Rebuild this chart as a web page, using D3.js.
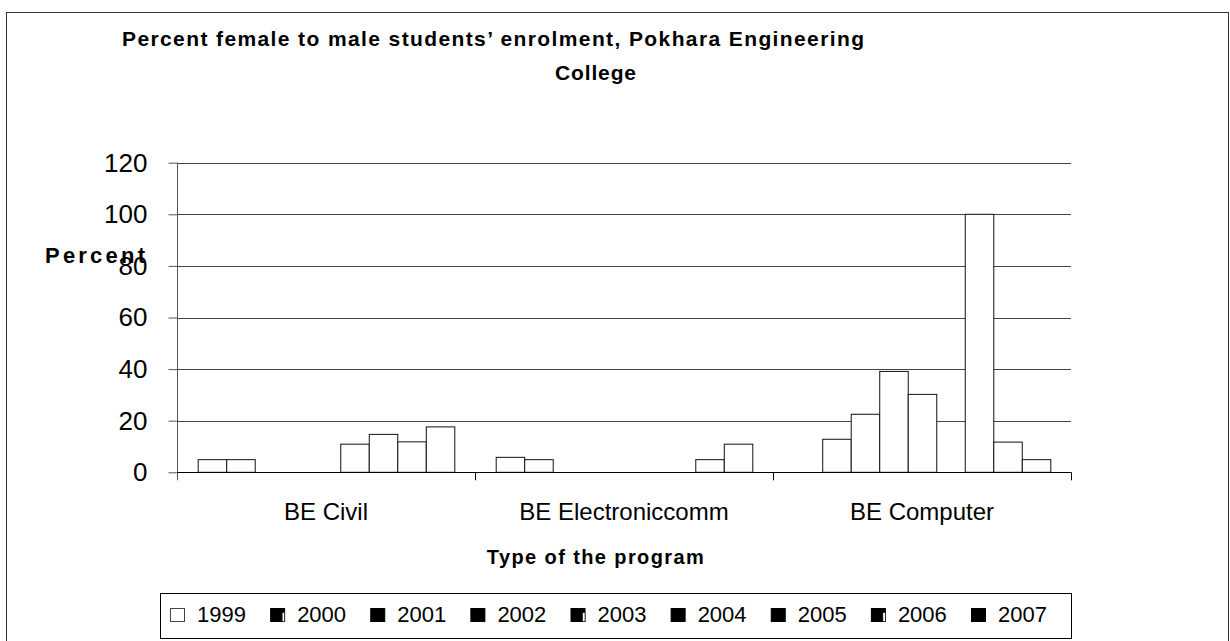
<!DOCTYPE html>
<html>
<head>
<meta charset="utf-8">
<script src="https://cdn.jsdelivr.net/npm/d3@7/dist/d3.min.js"></script>
<style>
  html, body { margin: 0; padding: 0; background: #fff; }
  svg { display: block; font-family: "Liberation Sans", Arial, sans-serif; }
</style>
</head>
<body>
<svg id="chart" width="1230" height="641"></svg>
<script>
// Programs shown on the category axis
const programs = ["BE Civil", "BE Electroniccomm", "BE Computer"];
// Intake years (one bar per year inside each program)
const years = ["1999", "2000", "2001", "2002", "2003", "2004", "2005", "2006", "2007"];
// Percent female to male enrolment, per program, in year order
const civil      = [4.9, 4.9, 0, 0, 0, 10.9, 14.7, 11.8, 17.6];
const electronic = [5.8, 4.9, 0, 0, 0, 0, 0, 4.9, 10.9];
const computer   = [0, 12.8, 22.5, 39.1, 30.2, 0, 100, 11.7, 4.9];
const seriesByProgram = [civil, electronic, computer];
// Value axis ticks
const yTicks = [0, 20, 40, 60, 80, 100, 120];

const svg = d3.select("#chart");

// outer frame
svg.append("rect")
  .attr("x", 6.5).attr("y", 12.5).attr("width", 1222).attr("height", 660)
  .attr("fill", "#fff").attr("stroke", "#333").attr("stroke-width", 1);

const plot = { left: 177, right: 1071, top: 162.7, bottom: 472.3 };

const x0 = d3.scaleBand().domain(programs).range([plot.left, plot.right]).padding(0);
const x1 = d3.scaleBand().domain(years).range([0, x0.bandwidth()])
  .paddingInner(0).paddingOuter(0.726);
const y = d3.scaleLinear().domain([0, 120]).range([plot.bottom, plot.top]);

// horizontal gridlines
svg.append("g").selectAll("line").data(yTicks.filter(t => t > 0)).join("line")
  .attr("x1", plot.left).attr("x2", plot.right)
  .attr("y1", d => Math.round(y(d)) + 0.5).attr("y2", d => Math.round(y(d)) + 0.5)
  .attr("stroke", "#444").attr("stroke-width", 1.2);

// value axis
const yAxis = svg.append("g")
  .attr("transform", `translate(${plot.left + 0.5},0)`)
  .call(d3.axisLeft(y).tickValues(yTicks).tickSize(9).tickPadding(21).tickSizeOuter(0));
yAxis.select(".domain").attr("stroke", "#555").attr("d", `M0,${plot.top}V${plot.bottom + 8}`);
yAxis.selectAll(".tick line").attr("stroke", "#555");
yAxis.selectAll(".tick text")
  .attr("font-size", 26).attr("fill", "#000")
  .attr("font-family", "'Liberation Sans', Arial, sans-serif");

// bars
const groups = svg.append("g").selectAll("g").data(programs).join("g")
  .attr("transform", d => `translate(${x0(d)},0)`);
groups.selectAll("rect")
  .data((p, i) => years.map((yr, j) => ({ year: yr, value: seriesByProgram[i][j] })))
  .join("rect")
  .filter(d => d.value > 0)
  .attr("x", d => x1(d.year) + 0.5)
  .attr("y", d => y(d.value))
  .attr("width", x1.bandwidth())
  .attr("height", d => y(0) - y(d.value))
  .attr("fill", "#fff").attr("stroke", "#111").attr("stroke-width", 1);

// category axis line and boundary ticks
svg.append("line")
  .attr("x1", plot.left).attr("x2", plot.right)
  .attr("y1", Math.round(plot.bottom) + 0.5).attr("y2", Math.round(plot.bottom) + 0.5)
  .attr("stroke", "#000").attr("stroke-width", 1);
const boundaries = programs.slice(1).map(p => x0(p)).concat([plot.right]);
svg.append("g").selectAll("line").data(boundaries).join("line")
  .attr("x1", d => Math.round(d) + 0.5).attr("x2", d => Math.round(d) + 0.5)
  .attr("y1", plot.bottom).attr("y2", plot.bottom + 8)
  .attr("stroke", "#000");
svg.append("g").selectAll("text").data(programs).join("text")
  .attr("x", d => x0(d) + x0.bandwidth() / 2)
  .attr("y", 520)
  .attr("text-anchor", "middle")
  .attr("font-size", 24)
  .text(d => d);

// titles
svg.append("text")
  .attr("x", 122).attr("y", 46)
  .attr("font-size", 21).attr("font-weight", "bold")
  .attr("textLength", 742).attr("lengthAdjust", "spacing")
  .text("Percent female to male students\u2019 enrolment, Pokhara Engineering");
svg.append("text")
  .attr("x", 555).attr("y", 80)
  .attr("font-size", 21).attr("font-weight", "bold")
  .attr("textLength", 81).attr("lengthAdjust", "spacing")
  .text("College");
svg.append("text")
  .attr("x", 45).attr("y", 263)
  .attr("font-size", 22).attr("font-weight", "bold")
  .attr("textLength", 100).attr("lengthAdjust", "spacing")
  .text("Percent");
svg.append("text")
  .attr("x", 596).attr("y", 564)
  .attr("text-anchor", "middle")
  .attr("font-size", 20).attr("font-weight", "bold")
  .attr("letter-spacing", 1.4)
  .text("Type of the program");

// legend
svg.append("rect")
  .attr("x", 160.5).attr("y", 593.5).attr("width", 911).attr("height", 45)
  .attr("fill", "#fff").attr("stroke", "#000").attr("stroke-width", 1);
const legendX = d3.scalePoint().domain(years).range([170, 971]);
const items = svg.append("g").selectAll("g").data(years).join("g")
  .attr("transform", d => `translate(${legendX(d)},608)`);
items.append("rect")
  .attr("x", 0.5).attr("y", 0.5).attr("width", 14).attr("height", 13)
  .attr("fill", (d, i) => i === 0 ? "#fff" : "#000")
  .attr("stroke", (d, i) => i === 0 ? "#444" : "#000");
items.filter((d, i) => i % 3 === 1).append("rect")
  .attr("x", 12).attr("y", 4.5).attr("width", 2.5).attr("height", 9)
  .attr("fill", "#fff").attr("stroke", "#000").attr("stroke-width", 0.6);
items.append("text")
  .attr("x", 27).attr("y", 13.5)
  .attr("font-size", 22)
  .text(d => d);
</script>
</body>
</html>
